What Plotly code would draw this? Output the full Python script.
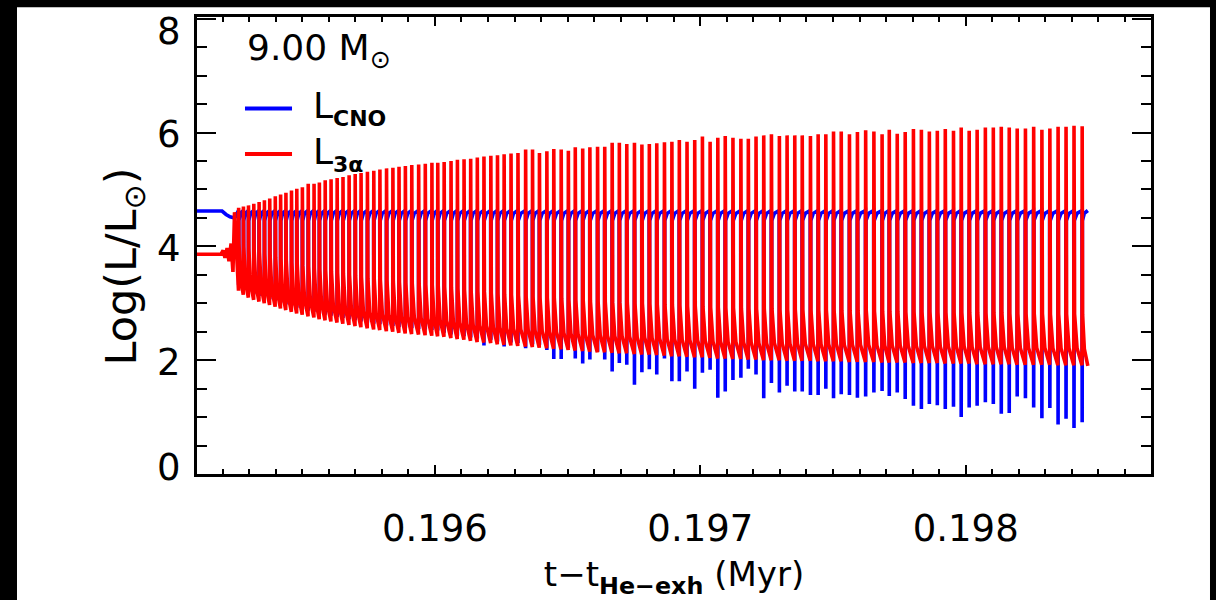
import plotly.graph_objects as go

# ---------------- data ----------------
# times of the thermal pulses, t - t_He-exh (Myr)
pulse_time = [
    0.195260, 0.195278, 0.195297, 0.195317, 0.195337, 0.195357, 0.195377, 0.195398, 0.195418, 0.195438,
    0.195459, 0.195479, 0.195500, 0.195522, 0.195544, 0.195564, 0.195586, 0.195608, 0.195631, 0.195653,
    0.195676, 0.195699, 0.195721, 0.195745, 0.195769, 0.195792, 0.195817, 0.195841, 0.195864, 0.195888,
    0.195912, 0.195938, 0.195963, 0.195988, 0.196010,
    0.196034, 0.196060, 0.196084, 0.196109, 0.196134, 0.196159, 0.196184, 0.196210, 0.196235, 0.196260,
    0.196286, 0.196312, 0.196341, 0.196367, 0.196393, 0.196421, 0.196447, 0.196475, 0.196502, 0.196528,
    0.196556, 0.196583, 0.196612, 0.196639, 0.196667, 0.196694, 0.196722, 0.196751, 0.196779, 0.196807,
    0.196835, 0.196864, 0.196892, 0.196920, 0.196949, 0.196978, 0.197007, 0.197036, 0.197065, 0.197093,
    0.197122, 0.197152, 0.197180, 0.197209, 0.197238, 0.197267, 0.197297, 0.197326, 0.197355, 0.197383,
    0.197414, 0.197443, 0.197472, 0.197501, 0.197530, 0.197561, 0.197591, 0.197622,
    0.197653, 0.197684, 0.197711, 0.197741, 0.197771, 0.197802, 0.197832, 0.197862, 0.197892, 0.197922,
    0.197953, 0.197982, 0.198012, 0.198042, 0.198073, 0.198103, 0.198133, 0.198163, 0.198193, 0.198224,
    0.198255, 0.198286, 0.198316, 0.198347, 0.198377, 0.198407, 0.198438,
]
# Log(L_3a/Lsun) at the top of each pulse
l3a_peak = [
    4.68, 4.70, 4.72, 4.75, 4.78, 4.81, 4.84, 4.88, 4.91, 4.94,
    4.98, 5.01, 5.04, 5.10, 5.10, 5.12, 5.16, 5.18, 5.20, 5.22,
    5.25, 5.27, 5.29, 5.31, 5.33, 5.35, 5.37, 5.38, 5.40, 5.41,
    5.43, 5.44, 5.45, 5.47, 5.47,
    5.48, 5.50, 5.52, 5.53, 5.54, 5.56, 5.58, 5.59, 5.60, 5.62,
    5.63, 5.64, 5.70, 5.70, 5.64, 5.67, 5.71, 5.70, 5.68, 5.74,
    5.72, 5.74, 5.75, 5.75, 5.82, 5.82, 5.80, 5.82, 5.79, 5.80,
    5.81, 5.83, 5.84, 5.87, 5.84, 5.87, 5.93, 5.84, 5.91, 5.94,
    5.91, 5.89, 5.89, 5.93, 5.95, 5.97, 5.94, 5.95, 5.95, 5.95,
    5.94, 5.97, 5.97, 6.02, 6.02, 5.97, 6.01, 6.04,
    6.02, 5.97, 6.05, 5.98, 6.01, 6.06, 6.05, 6.02, 6.03, 6.06,
    6.03, 6.09, 6.03, 6.05, 6.09, 6.09, 6.10, 6.09, 6.07, 6.07,
    6.10, 6.05, 6.07, 6.10, 6.10, 6.12, 6.11,
]
# Log(L_3a/Lsun) just before each pulse (minimum)
l3a_trough = [
    3.22, 3.15, 3.10, 3.06, 3.03, 3.00, 2.97, 2.94, 2.91, 2.88,
    2.85, 2.82, 2.80, 2.77, 2.75, 2.72, 2.70, 2.68, 2.66, 2.64,
    2.62, 2.60, 2.58, 2.56, 2.54, 2.53, 2.51, 2.50, 2.48, 2.47,
    2.46, 2.45, 2.44, 2.43, 2.42,
    2.41, 2.39, 2.37, 2.36, 2.34, 2.32, 2.31, 2.30, 2.28, 2.27,
    2.26, 2.25, 2.24, 2.23, 2.22, 2.21, 2.20, 2.19, 2.18, 2.17,
    2.16, 2.15, 2.14, 2.14, 2.13, 2.12, 2.12, 2.11, 2.10, 2.10,
    2.09, 2.08, 2.07, 2.07, 2.06, 2.05, 2.05, 2.04, 2.03, 2.03,
    2.02, 2.02, 2.01, 2.01, 2.00, 2.00, 2.00, 1.99, 1.99, 1.99,
    1.99, 1.98, 1.98, 1.98, 1.98, 1.97, 1.97, 1.97,
    1.97, 1.96, 1.96, 1.96, 1.96, 1.95, 1.95, 1.95, 1.95, 1.94,
    1.94, 1.94, 1.94, 1.93, 1.93, 1.93, 1.93, 1.93, 1.92, 1.92,
    1.92, 1.92, 1.92, 1.91, 1.91, 1.91, 1.91,
]
# Log(L_CNO/Lsun) at the bottom of each dip
cno_dip = [
    3.32, 3.25, 3.20, 3.16, 3.13, 3.10, 3.07, 3.04, 3.01, 2.98,
    2.95, 2.92, 2.90, 2.87, 2.85, 2.82, 2.80, 2.78, 2.76, 2.74,
    2.72, 2.70, 2.68, 2.66, 2.64, 2.63, 2.61, 2.60, 2.58, 2.57,
    2.56, 2.55, 2.54, 2.53, 2.52,
    2.48, 2.45, 2.43, 2.42, 2.40, 2.38, 2.26, 2.36, 2.33, 2.24,
    2.31, 2.30, 2.21, 2.28, 2.27, 2.18, 2.02, 2.02, 2.22, 2.03,
    1.94, 2.01, 2.15, 2.01, 1.80, 1.95, 1.92, 1.57, 1.79, 1.84,
    1.75, 2.03, 1.63, 1.63, 1.80, 1.50, 1.78, 1.83, 1.34, 1.45,
    1.65, 1.69, 1.85, 1.75, 1.33, 1.60, 1.43, 1.55, 1.45, 1.45,
    1.39, 1.39, 1.50, 1.33, 1.40, 1.39, 1.34, 1.36,
    1.43, 1.46, 1.37, 1.43, 1.32, 1.20, 1.14, 1.23, 1.21, 1.14,
    1.18, 1.00, 1.17, 1.20, 1.26, 1.23, 1.06, 1.07, 1.36, 1.33,
    1.17, 0.98, 1.16, 0.87, 0.97, 0.81, 0.91,
]
# quiet phase before the pulses start
pre_time_3a = [0.195100, 0.195194, 0.195202, 0.195209, 0.195217, 0.195224, 0.195232, 0.195239, 0.195245]
pre_l3a = [3.86, 3.86, 3.93, 3.80, 3.97, 3.74, 4.05, 3.55, 4.60]
pre_time_cno = [0.195100, 0.195198, 0.195213, 0.195228, 0.195245]
pre_cno = [4.62, 4.62, 4.56, 4.52, 4.50]
cno_base = 4.63          # CNO level between pulses
end_time = 0.198460      # last model
l3a_end = 1.90

x_ticks = [0.196, 0.197, 0.198]
y_ticks = [0, 2, 4, 6, 8]

# ---------------- build the pulse curves ----------------
n = len(pulse_time)
assert len(l3a_peak) == n and len(l3a_trough) == n and len(cno_dip) == n

rx, ry = list(pre_time_3a), list(pre_l3a)
bx, by = list(pre_time_cno), list(pre_cno)
for i in range(n):
    t0 = pulse_time[i]
    t1 = pulse_time[i + 1] if i + 1 < n else end_time
    d = t1 - t0
    nxt = l3a_trough[i + 1] if i + 1 < n else l3a_end
    rx += [t0, t0 + 0.03 * d, t0 + 0.10 * d, t0 + 0.40 * d]
    ry += [l3a_trough[i], l3a_peak[i], nxt + 0.9, nxt + 0.3]
    bx += [t0, t0 + 0.03 * d, t0 + 0.07 * d, t0 + 0.40 * d]
    by += [cno_base, cno_dip[i], 4.45, 4.58]
rx.append(end_time)
ry.append(l3a_end)
bx.append(end_time)
by.append(cno_base)

BLUE = "#0000ff"
RED = "#ff0000"
FONT = "DejaVu Sans"

fig = go.Figure()
fig.add_trace(go.Scatter(x=bx, y=by, mode="lines", name="L_CNO",
                         line=dict(color=BLUE, width=3.6), showlegend=False))
fig.add_trace(go.Scatter(x=rx, y=ry, mode="lines", name="L_3a",
                         line=dict(color=RED, width=3.6), showlegend=False))

axis_common = dict(
    showline=True, linecolor="black", linewidth=2.5, mirror="ticks",
    ticks="inside", tickcolor="black", tickwidth=2,
    showgrid=False, zeroline=False,
    tickfont=dict(family=FONT, size=37, color="black"),
)

fig.update_layout(
    width=1216, height=600,
    margin=dict(l=197, r=65, t=17, b=117),
    paper_bgcolor="white", plot_bgcolor="white",
    font=dict(family=FONT, color="black"),
    xaxis=dict(
        range=[0.1951036, 0.198698],
        tickmode="array", tickvals=x_ticks, ticktext=[f"{v:.3f}" for v in x_ticks],
        ticklen=9, ticklabelstandoff=20,
        minor=dict(tickmode="linear", tick0=0.196, dtick=0.0001, ticks="inside",
                   ticklen=5, tickwidth=2, tickcolor="black", showgrid=False),
        title=dict(text="t\u2212t<sub><b>He\u2212exh</b></sub> (Myr)",
                   font=dict(family=FONT, size=34, color="black"), standoff=14),
        **axis_common,
    ),
    yaxis=dict(
        range=[0, 8.03],
        tickmode="array", tickvals=y_ticks, showticklabels=False,
        ticklen=19,
        minor=dict(tickmode="linear", tick0=0, dtick=0.5, ticks="inside",
                   ticklen=10, tickwidth=2, tickcolor="black", showgrid=False),
        **axis_common,
    ),
)

# y axis title (placed like the original, slightly below the centre)
fig.add_annotation(xref="paper", yref="paper", x=-0.0760, y=0.455, xanchor="center", yanchor="middle",
                   textangle=-90, text="Log(L/L<sub>\u2299</sub>)", showarrow=False,
                   font=dict(family=FONT, size=43, color="black"))

# y tick labels: the end labels sit inside the frame, as in the original
for v in y_ticks:
    if v == y_ticks[-1]:
        shift = -13
    elif v == y_ticks[0]:
        shift = 7
    else:
        shift = -2
    fig.add_annotation(xref="paper", yref="y", x=-0.0147, y=v, xanchor="right", yanchor="middle",
                       yshift=shift, text=str(v), showarrow=False,
                       font=dict(family=FONT, size=37, color="black"))

# mass label and hand-drawn legend (as in the IDL original)
fig.add_annotation(xref="paper", yref="paper", x=0.050, y=0.926, xanchor="left", yanchor="middle",
                   text="9.00 M<sub>\u2299</sub>", showarrow=False,
                   font=dict(family=FONT, size=36, color="black"))
legend_items = [("L<sub><span style='font-size:22px'><b>CNO</b></span></sub>", BLUE, 0.800),
                ("L<sub><span style='font-size:22px'><b>3\u03b1</b></span></sub>", RED, 0.700)]
for label, col, yp in legend_items:
    fig.add_shape(type="line", xref="paper", yref="paper", x0=0.0503, x1=0.0996, y0=yp, y1=yp,
                  line=dict(color=col, width=4))
    fig.add_annotation(xref="paper", yref="paper", x=0.120, y=yp, xanchor="left", yanchor="middle",
                       text=label, showarrow=False, font=dict(family=FONT, size=36, color="black"))

# black frame of the original image
for x0, x1, y0, y1 in [(-1, -0.18868, -1, 2), (-1, 2, 1.02146, 2), (1.06184, 2, -1, 2)]:
    fig.add_shape(type="rect", xref="paper", yref="paper", x0=x0, x1=x1, y0=y0, y1=y1,
                  line=dict(width=0), fillcolor="black")

fig.write_html("out.html")
